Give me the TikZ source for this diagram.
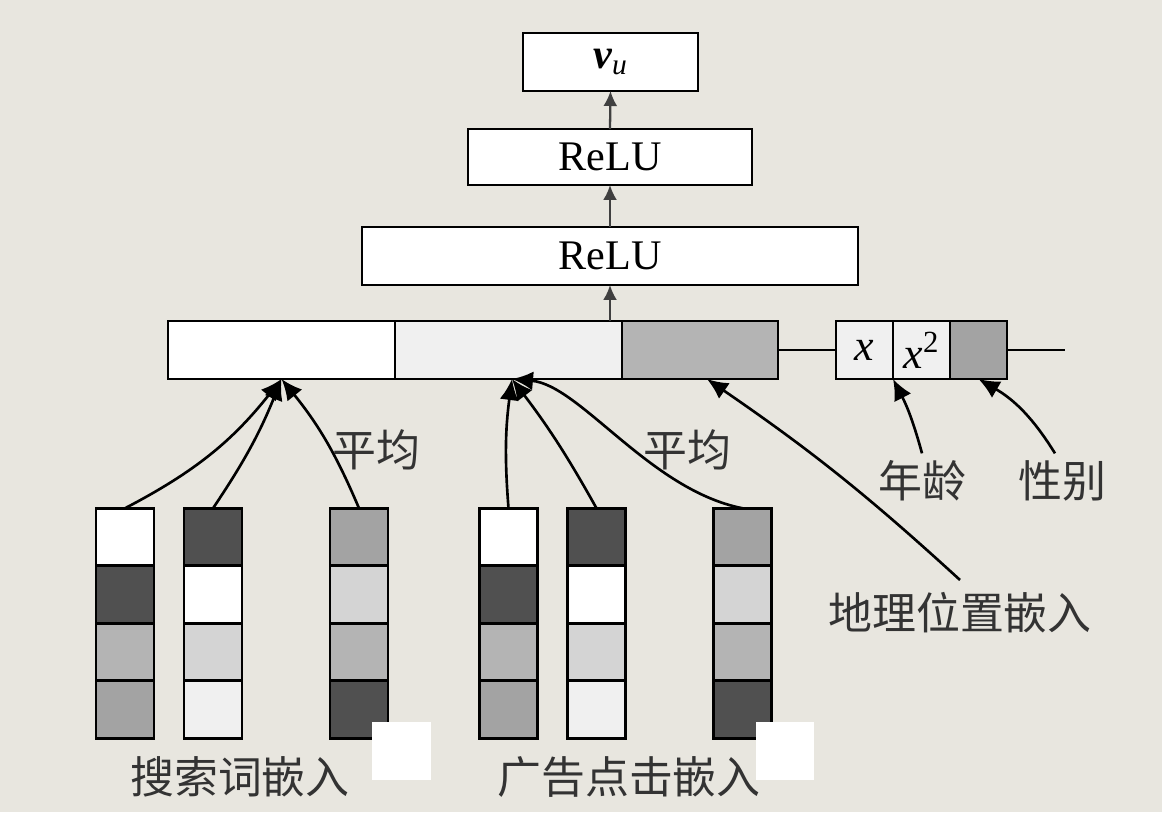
\documentclass[tikz,border=0pt]{standalone}
\usepackage{fontspec}
\setmainfont{Liberation Serif}
\newfontfamily\cjk{Noto Sans CJK SC}
\usepackage{tikz}
\usetikzlibrary{positioning, calc, arrows.meta}

\definecolor{PaperBg}{HTML}{E8E6DF}
\definecolor{CellDark}{HTML}{505050}
\definecolor{CellMid}{HTML}{A3A3A3}
\definecolor{CellLight}{HTML}{B4B4B4}
\definecolor{CellPale}{HTML}{D4D4D4}
\definecolor{CellFaint}{HTML}{F0F0F0}

\begin{document}
\begin{tikzpicture}[x=0.02cm, y=-0.02cm,
	LayerBox/.style={draw, fill=white, line width=1.6pt, inner sep=0, outer sep=0, minimum height=1.16cm, font=\fontsize{24}{26}\selectfont},
	SegBox/.style={draw, line width=1.6pt, inner sep=0, outer sep=0, minimum height=1.16cm, font=\fontsize{25}{27}\selectfont},
	CellBox/.style={draw, line width=1.6pt, inner sep=0, outer sep=0, minimum width=1.16cm, minimum height=1.15cm},
	CjkLabel/.style={font=\cjk\fontsize{25}{28}\selectfont, text=black!80, inner sep=0},
	Feed/.style={-{Latex[length=0.42cm, width=0.38cm]}, line width=1.5pt},
	StepArrow/.style={-{Latex[length=0.3cm, width=0.28cm]}, line width=1.3pt, black!75}]

	\fill[PaperBg] (0,0) rectangle (1162,812);

	% layers
	\node[LayerBox, minimum width=3.5cm] (Vu) at (610.5,62) {{\bfseries\itshape v}\textsubscript{\itshape u}};
	\node[LayerBox, minimum width=5.68cm, minimum height=1.12cm] (ReluTop) at (610,157) {ReLU};
	\node[LayerBox, minimum width=9.92cm] (ReluBot) at (610,256) {ReLU};

	% concatenated input
	\node[SegBox, fill=white, minimum width=4.54cm] (SegWord) at (281.5,350) {};
	\node[SegBox, fill=CellFaint, minimum width=4.54cm, right=0pt of SegWord] (SegAd) {};
	\node[SegBox, fill=CellLight, minimum width=3.12cm, right=0pt of SegAd] (SegGeo) {};
	\node[SegBox, fill=CellFaint, minimum width=1.14cm] (FeatX) at (864.5,350) {\textit{x}};
	\node[SegBox, fill=CellFaint, minimum width=1.14cm, right=0pt of FeatX] (FeatXsq) {\textit{x}\textsuperscript{2}};
	\node[SegBox, fill=CellMid, minimum width=1.14cm, right=0pt of FeatXsq] (FeatSex) {};
	\coordinate (TailEnd) at (1065,350);

	\draw[line width=1.3pt] (SegGeo.east) -- (FeatX.west);
	\draw[line width=1.3pt] (FeatSex.east) -- (TailEnd);

	\draw[StepArrow] (ReluBot.south |- SegAd.north) -- (ReluBot.south);
	\draw[StepArrow] (ReluBot.north) -- (ReluTop.south);
	\draw[StepArrow] (ReluTop.north) -- (Vu.south);

	% embedding columns
	\foreach \name/\cx/\ca/\cb/\cc/\cd in {
		SA/125/white/CellDark/CellLight/CellMid,
		SB/213/CellDark/white/CellPale/CellFaint,
		SC/359/CellMid/CellPale/CellLight/CellDark,
		AA/508.5/white/CellDark/CellLight/CellMid,
		AB/596.5/CellDark/white/CellPale/CellFaint,
		AC/742.5/CellMid/CellPale/CellLight/CellDark} {
		\node[CellBox, fill=\ca] (\name1) at (\cx,537) {};
		\node[CellBox, fill=\cb, below=0pt of \name1] (\name2) {};
		\node[CellBox, fill=\cc, below=0pt of \name2] (\name3) {};
		\node[CellBox, fill=\cd, below=0pt of \name3] (\name4) {};
	}

	\fill[white] (372,722) rectangle (431,780);
	\fill[white] (756,722) rectangle (814,780);

	% labels
	\node[CjkLabel] (WordLbl) at (240,777) {搜索词嵌入};
	\node[CjkLabel] (AdLbl) at (629,777) {广告点击嵌入};
	\node[CjkLabel] (AvgWord) at (376,450) {平均};
	\node[CjkLabel] (AvgAd) at (687,450) {平均};
	\node[CjkLabel] (AgeLbl) at (922,481) {年龄};
	\node[CjkLabel] (SexLbl) at (1062,481) {性别};
	\node[CjkLabel] (GeoLbl) at (960,613) {地理位置嵌入};

	% feeds
	\draw[Feed] (SA1.north) to[bend right=12] (SegWord.south);
	\draw[Feed] (SB1.north) to[bend right=6] (SegWord.south);
	\draw[Feed] (SC1.north) to[bend right=8] (SegWord.south);
	\draw[Feed] (AA1.north) to[bend left=6] ([xshift=2pt]SegAd.south);
	\draw[Feed] (AB1.north) to[bend right=4] ([xshift=2pt]SegAd.south);
	\draw[Feed] (AC1.north) .. controls (650,490) and (580,385) .. ([xshift=2pt]SegAd.south);
	\draw[Feed] ([yshift=7pt]GeoLbl.north) to[bend right=4] ([xshift=4pt]SegGeo.south);
	\draw[Feed] ([yshift=4pt]AgeLbl.north) to[bend right=6] (FeatX.south east);
	\draw[Feed] ([yshift=4pt, xshift=-4pt]SexLbl.north) to[bend right=14] (FeatSex.south);
\end{tikzpicture}
\end{document}
